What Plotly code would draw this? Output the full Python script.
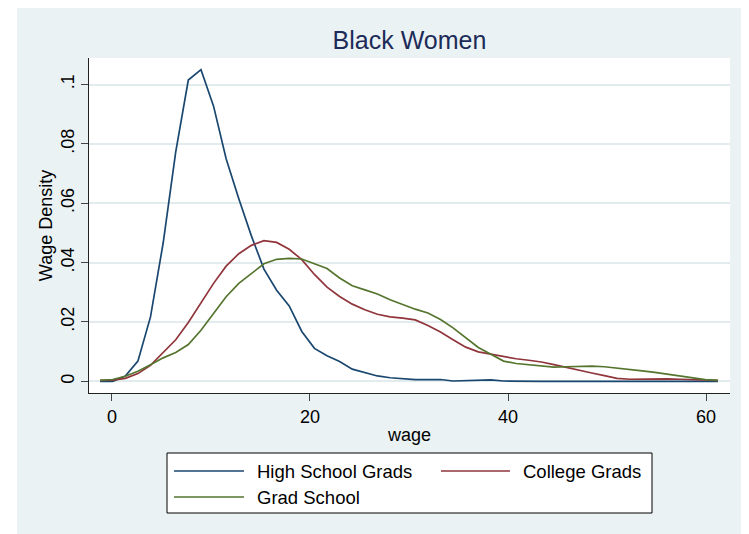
import plotly.graph_objects as go

# ---- data ----
wage = [-1.2, 0.07, 1.35, 2.62, 3.89, 5.17, 6.44, 7.71, 8.99, 10.26,
        11.53, 12.81, 14.08, 15.35, 16.63, 17.9, 19.17, 20.45, 21.72, 22.99,
        24.27, 25.54, 26.81, 28.09, 29.36, 30.63, 31.91, 33.18, 34.45, 35.73,
        37.0, 38.27, 39.55, 40.82, 42.09, 43.37, 44.64, 45.91, 47.19, 48.46,
        49.73, 51.01, 52.28, 53.55, 54.83, 56.1, 57.37, 58.65, 59.92, 61.2]

high_school = [0.0000, 0.0000, 0.0018, 0.0068, 0.0217, 0.0466, 0.0773, 0.1015, 0.1050, 0.0927,
               0.0750, 0.0615, 0.0490, 0.0378, 0.0307, 0.0254, 0.0168, 0.0111, 0.0086, 0.0067,
               0.0041, 0.0030, 0.0018, 0.0012, 0.0008, 0.0006, 0.0006, 0.0006, 0.0001, 0.0002,
               0.0005, 0.0005, 0.0001, 0.0000, 0.0000, 0.0000, 0.0000, 0.0000, 0.0000, 0.0000,
               0.0000, 0.0000, 0.0000, 0.0000, 0.0000, 0.0000, 0.0000, 0.0000, 0.0000, 0.0000]

college = [0.0003, 0.0004, 0.0010, 0.0026, 0.0054, 0.0096, 0.0140, 0.0198, 0.0265, 0.0330,
           0.0388, 0.0430, 0.0458, 0.0474, 0.0468, 0.0445, 0.0410, 0.0360, 0.0317, 0.0286,
           0.0260, 0.0241, 0.0226, 0.0217, 0.0213, 0.0207, 0.0188, 0.0166, 0.0140, 0.0115,
           0.0099, 0.0091, 0.0082, 0.0076, 0.0071, 0.0065, 0.0056, 0.0046, 0.0036, 0.0028,
           0.0019, 0.0010, 0.0007, 0.0008, 0.0008, 0.0008, 0.0007, 0.0006, 0.0005, 0.0003]

grad_school = [0.0003, 0.0006, 0.0017, 0.0034, 0.0056, 0.0079, 0.0097, 0.0124, 0.0172, 0.0230,
               0.0285, 0.0330, 0.0362, 0.0396, 0.0411, 0.0414, 0.0412, 0.0397, 0.0380, 0.0348,
               0.0322, 0.0308, 0.0294, 0.0275, 0.0258, 0.0243, 0.0230, 0.0208, 0.0180, 0.0148,
               0.0114, 0.0091, 0.0068, 0.0060, 0.0056, 0.0050, 0.0048, 0.0049, 0.0050, 0.0051,
               0.0049, 0.0045, 0.0040, 0.0035, 0.0030, 0.0024, 0.0018, 0.0012, 0.0006, 0.0003]

series_names = ["High School Grads", "College Grads", "Grad School"]
series_values = [high_school, college, grad_school]
series_colors = ["#1a476f", "#90353b", "#55752f"]

x_tick_vals = [0, 20, 40, 60]
x_tick_text = ["0", "20", "40", "60"]
y_tick_vals = [0, 0.02, 0.04, 0.06, 0.08, 0.1]
y_tick_text = ["0", ".02", ".04", ".06", ".08", ".1"]

title_text = "Black Women"
x_title = "wage"
y_title = "Wage Density"

# ---- layout geometry ----
# The page body keeps the browser's default 8px margin, so the figure is
# sized to fill the 749x534 window from (8, 8); S(p) maps screen px -> figure px.
OFF = 8
W, H = 749 - OFF, 534 - OFF
ML, MR, MT, MB = 89 - OFF, 749 - 730, 58 - OFF, 534 - 393
PW = W - ML - MR
PH = H - MT - MB
BG = "#eaf2f3"
FONT = "Liberation Sans, Arial, Helvetica, sans-serif"


def px(p):  # screen x pixel -> paper fraction
    return (p - OFF - ML) / PW


def py(q):  # screen y pixel -> paper fraction
    return (H - MB - (q - OFF)) / PH


fig = go.Figure()
for name, vals, col in zip(series_names, series_values, series_colors):
    fig.add_trace(go.Scatter(x=wage, y=vals, mode="lines", name=name,
                             line=dict(color=col, width=1.7), showlegend=False))

shapes = []
# white strip at the left of the canvas
shapes.append(dict(type="rect", xref="paper", yref="paper", x0=px(OFF), x1=px(17),
                   y0=py(534), y1=py(OFF), fillcolor="white", line=dict(width=0), layer="above"))

# legend box drawn by hand (Stata-style)
shapes.append(dict(type="rect", xref="paper", yref="paper", x0=px(167), x1=px(652),
                   y0=py(513), y1=py(453), fillcolor="white",
                   line=dict(color="black", width=1), layer="above"))
legend_slots = [(174, 244, 255, 471), (441, 510, 521, 471), (174, 244, 255, 497)]
annotations = []
for (lx0, lx1, tx, ry), name, col in zip(legend_slots, series_names, series_colors):
    shapes.append(dict(type="line", xref="paper", yref="paper", x0=px(lx0), x1=px(lx1),
                       y0=py(ry), y1=py(ry), line=dict(color=col, width=1.7), layer="above"))
    annotations.append(dict(xref="paper", yref="paper", x=px(tx), y=py(ry), text=name,
                            showarrow=False, xanchor="left", yanchor="middle",
                            font=dict(family=FONT, size=18.5, color="black")))

fig.update_layout(
    width=W, height=H,
    margin=dict(l=ML, r=MR, t=MT, b=MB, pad=0),
    paper_bgcolor=BG, plot_bgcolor="white",
    font=dict(family=FONT, size=18, color="black"),
    title=dict(text=title_text, x=0.5, xref="paper", xanchor="center",
               y=1 - (40 - OFF) / H, yref="container", yanchor="middle",
               font=dict(family=FONT, size=25, color="#1c2b58")),
    shapes=shapes, annotations=annotations,
    showlegend=False,
)
fig.update_xaxes(range=[-2.32, 62.42], tickvals=x_tick_vals, ticktext=x_tick_text,
                 showgrid=False, zeroline=False, showline=True, linecolor="#222", linewidth=1,
                 ticks="outside", ticklen=7, tickcolor="#444", tickwidth=1,
                 tickfont=dict(size=18), title=dict(text=x_title, font=dict(size=18), standoff=2))
fig.update_yaxes(range=[-0.00394, 0.10893], tickvals=y_tick_vals, ticktext=y_tick_text,
                 tickangle=-90, showgrid=True, gridcolor="#e2ebee", gridwidth=1.5,
                 zeroline=False, showline=True, linecolor="#222", linewidth=1,
                 ticks="outside", ticklen=7, tickcolor="#444", tickwidth=1,
                 tickfont=dict(size=18), title=dict(text=y_title, font=dict(size=18), standoff=0))

fig.write_html("out.html")
